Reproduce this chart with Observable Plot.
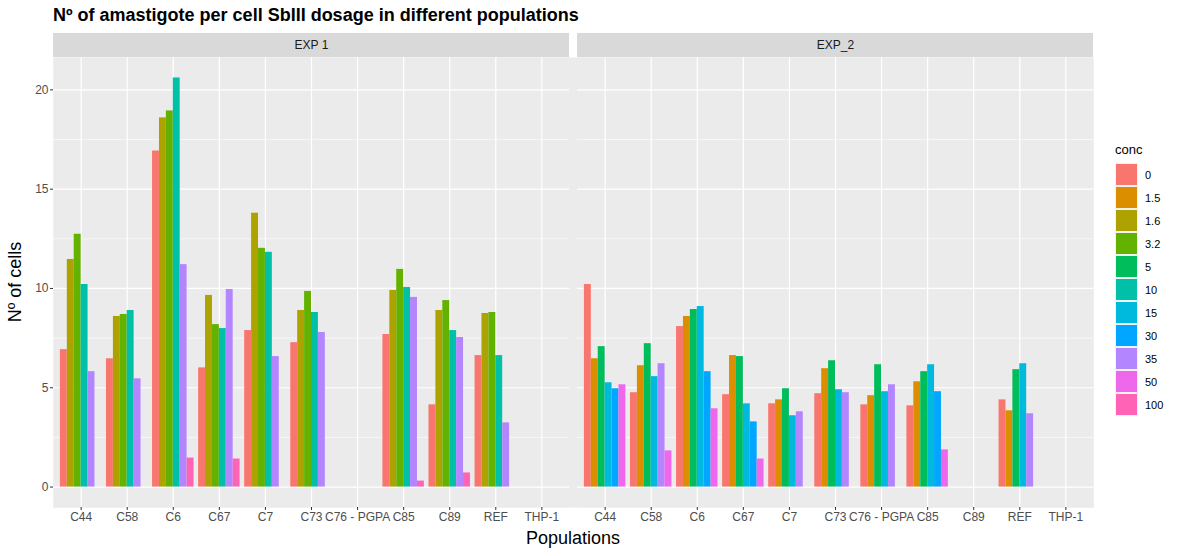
<!DOCTYPE html>
<html><head><meta charset="utf-8">
<script src="https://cdn.jsdelivr.net/npm/d3@7"></script>
<script src="https://cdn.jsdelivr.net/npm/@observablehq/plot@0.6"></script>
<style>
body{margin:0;background:#fff;font-family:"Liberation Sans",Arial,sans-serif}
#wrap{position:relative;width:1180px;height:556px}
#title{position:absolute;left:53px;top:5px;font-size:18px;font-weight:bold;color:#000}
#legend{position:absolute;left:1115px;top:142px;font-size:12px;color:#000}
</style></head>
<body><div id="wrap"><div id="title">Nº of amastigote per cell SbIII dosage in different populations</div><div id="chart"></div><div id="legend"></div></div>
<script>
var pops = ["C44","C58","C6","C67","C7","C73","C76 - PGPA","C85","C89","REF","THP-1"]
var concs = ["0","1.5","1.6","3.2","5","10","15","30","35","50","100"]
var colors = ["#F8766D","#DB8E00","#AEA200","#64B200","#00BD5C","#00C1A7","#00BADE","#00A6FF","#B385FF","#EF67EB","#FF63B6"]
var exps = ["EXP 1","EXP_2"]

// [population, conc, value]
var exp1 = [
  ["C44","0",6.92],["C44","1.6",11.46],["C44","3.2",12.73],["C44","10",10.2],["C44","35",5.81],
  ["C58","0",6.46],["C58","1.6",8.59],["C58","3.2",8.69],["C58","10",8.89],["C58","35",5.45],
  ["C6","0",16.92],["C6","1.6",18.59],["C6","3.2",18.94],["C6","10",20.6],["C6","35",11.2],["C6","100",1.46],
  ["C67","0",6.0],["C67","1.6",9.65],["C67","3.2",8.18],["C67","10",7.98],["C67","35",9.95],["C67","100",1.41],
  ["C7","0",7.88],["C7","1.6",13.79],["C7","3.2",12.02],["C7","10",11.82],["C7","35",6.57],
  ["C73","0",7.27],["C73","1.6",8.89],["C73","3.2",9.85],["C73","10",8.79],["C73","35",7.78],
  ["C85","0",7.68],["C85","1.6",9.9],["C85","3.2",10.96],["C85","10",10.05],["C85","35",9.55],["C85","100",0.3],
  ["C89","0",4.14],["C89","1.6",8.89],["C89","3.2",9.39],["C89","10",7.88],["C89","35",7.53],["C89","100",0.71],
  ["REF","0",6.62],["REF","1.6",8.74],["REF","3.2",8.79],["REF","10",6.62],["REF","35",3.23]
]
var exp2 = [
  ["C44","0",10.2],["C44","1.5",6.46],["C44","5",7.07],["C44","15",5.25],["C44","30",4.95],["C44","50",5.15],
  ["C58","0",4.75],["C58","1.5",6.11],["C58","5",7.22],["C58","15",5.56],["C58","35",6.21],["C58","50",1.82],
  ["C6","0",8.08],["C6","1.5",8.59],["C6","5",8.94],["C6","15",9.09],["C6","30",5.81],["C6","50",3.94],
  ["C67","0",4.65],["C67","1.5",6.62],["C67","5",6.57],["C67","15",4.19],["C67","30",3.28],["C67","50",1.41],
  ["C7","0",4.19],["C7","1.5",4.39],["C7","5",4.95],["C7","15",3.59],["C7","35",3.79],
  ["C73","0",4.7],["C73","1.5",5.96],["C73","5",6.36],["C73","15",4.9],["C73","35",4.75],
  ["C76 - PGPA","0",4.14],["C76 - PGPA","1.5",4.6],["C76 - PGPA","5",6.16],["C76 - PGPA","15",4.8],["C76 - PGPA","35",5.15],
  ["C85","0",4.09],["C85","1.5",5.3],["C85","5",5.81],["C85","15",6.16],["C85","30",4.8],["C85","50",1.87],
  ["REF","0",4.39],["REF","1.5",3.84],["REF","5",5.91],["REF","15",6.21],["REF","35",3.69]
]

// ggplot-style dodge: width 0.9 split by max group count in the panel, bars packed left
var data = []
;[exp1, exp2].forEach((rows, e) => {
  var counts = d3.rollup(rows, v => v.length, d => d[0])
  var n = d3.max(counts.values())
  var seen = new Map()
  rows.forEach(([pop, conc, value]) => {
    var slot = seen.get(pop) || 0
    seen.set(pop, slot + 1)
    var x0 = pops.indexOf(pop) + 1 - 0.45 + slot * 0.9 / n
    data.push({exp: exps[e], pop, conc, value, x1: x0, x2: x0 + 0.9 / n})
  })
})

var ymin = -1.03, ymax = 21.63
var strips = exps.map(e => ({exp: e}))

var chart = Plot.plot({
  width: 1180, height: 556,
  marginLeft: 53, marginRight: 87, marginTop: 57, marginBottom: 49,
  style: {fontFamily: "Liberation Sans, Arial, sans-serif", fontSize: "12px", color: "#4D4D4D"},
  fx: {domain: exps, padding: 0.0155, axis: null},
  x: {domain: [0.4, 11.6], label: null},
  y: {domain: [ymin, ymax], label: null},
  color: {domain: concs, range: colors},
  marks: [
    Plot.frame({fill: "#EBEBEB", stroke: null, facet: "super"}),
    Plot.frame({fill: "#EBEBEB", stroke: null}),
    Plot.ruleY([2.5, 7.5, 12.5, 17.5], {stroke: "#fff", strokeWidth: 0.6}),
    Plot.ruleY([0, 5, 10, 15, 20], {stroke: "#fff", strokeWidth: 1.2}),
    Plot.ruleX(d3.range(1, pops.length + 1), {stroke: "#fff", strokeWidth: 1.2}),
    Plot.rect(strips, {fx: "exp", x1: 0.4, x2: 11.6, y1: ymax, y2: ymax + 24 / 19.8, fill: "#D9D9D9", clip: false}),
    Plot.text(strips, {fx: "exp", x: 6, y: ymax + 12 / 19.8, text: "exp", fill: "#1A1A1A", fontSize: 12}),
    Plot.rectY(data, {fx: "exp", x1: "x1", x2: "x2", y1: 0, y2: "value", fill: "conc"}),
    Plot.axisY({ticks: [0, 5, 10, 15, 20], tickSize: 3, tickPadding: 2, label: null, stroke: "#333"}),
    Plot.axisX({ticks: d3.range(1, pops.length + 1), tickFormat: i => pops[i - 1], tickSize: 3, tickPadding: 2, label: null, stroke: "#333"})
  ]
})
d3.select("#chart").append(() => chart)

var svg = d3.select(chart)
svg.append("text").attr("x", 573).attr("y", 544).attr("text-anchor", "middle")
  .attr("font-size", 18).attr("fill", "#000").text("Populations")
svg.append("text").attr("transform", "translate(21,282) rotate(-90)").attr("text-anchor", "middle")
  .attr("font-size", 18).attr("fill", "#000").text("Nº of cells")

var lg = d3.select("#legend")
lg.append("div").style("font-size", "13px").style("margin-bottom", "6px").text("conc")
concs.forEach((c, i) => {
  var row = lg.append("div").style("display", "flex").style("align-items", "center").style("height", "23px")
  row.append("div").style("width", "21px").style("height", "21px").style("background", colors[i]).style("border", "1px solid #F2F2F2")
  row.append("span").style("margin-left", "7px").style("font-size", "11px").text(c)
})
</script></body></html>
